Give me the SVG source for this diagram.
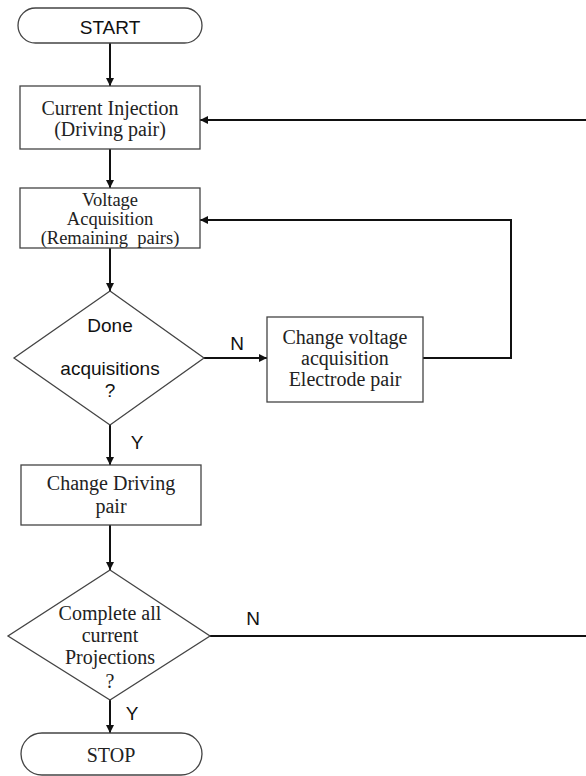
<svg xmlns="http://www.w3.org/2000/svg" width="586" height="776" viewBox="0 0 586 776">
<defs>
<marker id="ah" viewBox="0 0 10 10" refX="10" refY="5" markerWidth="8" markerHeight="8" markerUnits="userSpaceOnUse" orient="auto">
<path d="M0,0 L10,5 L0,10 Z" fill="#111"/>
</marker>
<style>
.shape{fill:#fff;stroke:#444;stroke-width:1.3}
.serif{font-family:"Liberation Serif","Times New Roman",serif;font-size:20px;fill:#222;text-anchor:middle;dominant-baseline:central}
.sm{font-size:18.5px}
.sans{font-family:"Liberation Sans",Arial,sans-serif;font-size:19px;fill:#111;text-anchor:middle;dominant-baseline:central}
.conn{fill:none;stroke:#111;stroke-width:2}
.arr{marker-end:url(#ah)}
</style>
</defs>
<rect width="586" height="776" fill="#fff"/>
<g id="connectors">
<line class="conn arr" x1="110" y1="43" x2="110" y2="86"/>
<line class="conn arr" x1="110" y1="149" x2="110" y2="188"/>
<line class="conn arr" x1="110" y1="248" x2="110" y2="291"/>
<line class="conn arr" x1="204" y1="358" x2="267" y2="358"/>
<polyline class="conn arr" points="423,358 511,358 511,220 200,220"/>
<line class="conn arr" x1="110" y1="425" x2="110" y2="465"/>
<line class="conn arr" x1="110" y1="525" x2="110" y2="570"/>
<polyline class="conn arr" points="210,636 588,636 588,120 200,120"/>
<line class="conn arr" x1="110" y1="700" x2="110" y2="733"/>
<text class="sans" x="237" y="343">N</text>
<text class="sans" x="137" y="442">Y</text>
<text class="sans" x="253" y="618">N</text>
<text class="sans" x="132" y="713">Y</text>
</g>
<g id="start">
<rect class="shape" x="18" y="8" width="184" height="35" rx="17.5"/>
<text class="sans" x="110" y="27">START</text>
</g>
<g id="current-injection">
<rect class="shape" x="20" y="86" width="180" height="63"/>
<text class="serif" x="110" y="108">Current Injection</text>
<text class="serif" x="110" y="129">(Driving pair)</text>
</g>
<g id="voltage-acquisition">
<rect class="shape" x="20" y="188" width="180" height="60"/>
<text class="serif sm" x="110" y="200">Voltage</text>
<text class="serif sm" x="110" y="219">Acquisition</text>
<text class="serif sm" x="110" y="238" xml:space="preserve">(Remaining  pairs)</text>
</g>
<g id="done-acquisitions">
<polygon class="shape" points="110,291 204,358 110,425 14,358"/>
<text class="sans" x="110" y="325">Done</text>
<text class="sans" x="110" y="368">acquisitions</text>
<text class="sans" x="110" y="390">?</text>
</g>
<g id="change-voltage">
<rect class="shape" x="267" y="317" width="156" height="85"/>
<text class="serif" x="345" y="337">Change voltage</text>
<text class="serif" x="345" y="358">acquisition</text>
<text class="serif" x="345" y="379">Electrode pair</text>
</g>
<g id="change-driving">
<rect class="shape" x="21" y="465" width="180" height="60"/>
<text class="serif" x="111" y="483">Change Driving</text>
<text class="serif" x="111" y="506">pair</text>
</g>
<g id="complete-projections">
<polygon class="shape" points="110,570 210,636 110,700 8,636"/>
<text class="serif" x="110" y="613">Complete all</text>
<text class="serif" x="110" y="635">current</text>
<text class="serif" x="110" y="657">Projections</text>
<text class="serif" x="110" y="681">?</text>
</g>
<g id="stop">
<rect class="shape" x="21" y="733" width="181" height="42" rx="21"/>
<text class="serif" x="111" y="755">STOP</text>
</g>
</svg>
